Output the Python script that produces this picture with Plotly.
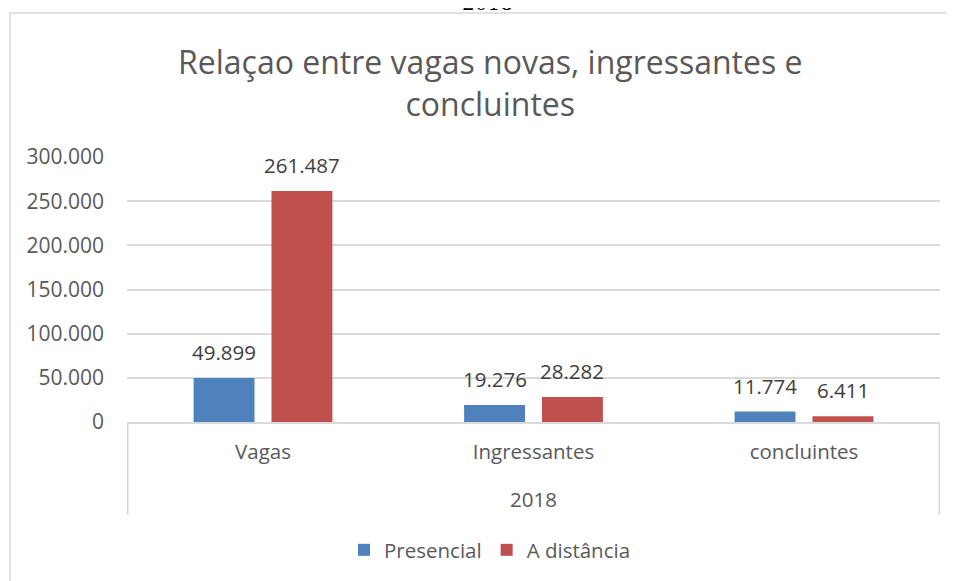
import plotly.graph_objects as go

# ---- data ----
group_label = "2018"
categories = ["Vagas", "Ingressantes", "concluintes"]
presencial = [49899, 19276, 11774]
distancia = [261487, 28282, 6411]
series_names = ["Presencial", "A distância"]
y_ticks = [0, 50000, 100000, 150000, 200000, 250000, 300000]
y_ticklabels = ["0", "50.000", "100.000", "150.000", "200.000", "250.000", "300.000"]
title_text = "Relaçao entre vagas novas, ingressantes e<br>concluintes"

# ---- style ----
BLUE = "#4f81bd"
RED = "#c0504d"
TXT = "#595959"
LBL = "#404040"
GRID = "#d9d9d9"
FONT = "Open Sans"
BARGAP = 0.424
BARGROUPGAP = 0.218

OFF = 8  # page body margin
W, H = 955 - OFF, 581 - OFF
# plot area in reference (screen) pixels
X0, X1, Y0, Y1 = 127, 940, 157, 422
ML, MR, MT, MB = X0 - OFF, W - (X1 - OFF), Y0 - OFF, H - (Y1 - OFF)
PW, PH = X1 - X0, Y1 - Y0


def px2xp(x):
    return (x - X0) / PW


def px2yp(y):
    return (Y1 - y) / PH


def fmt(v):
    return f"{v:,}".replace(",", ".")


fig = go.Figure()
fig.add_trace(go.Bar(x=categories, y=presencial, name=series_names[0],
                     marker=dict(color=BLUE, line=dict(width=0))))
fig.add_trace(go.Bar(x=categories, y=distancia, name=series_names[1],
                     marker=dict(color=RED, line=dict(width=0))))

# data labels
slot = (1 - BARGAP) / 2
for vals, sign in ((presencial, -1), (distancia, 1)):
    for i, v in enumerate(vals):
        fig.add_annotation(x=i + sign * slot / 2, y=v, xref="x", yref="y",
                           text=fmt(v), showarrow=False, yanchor="middle",
                           yshift=26, font=dict(family=FONT, size=20.5, color=LBL))

# group label under categories
fig.add_annotation(x=0.5, y=px2yp(499), xref="paper", yref="paper",
                   text=group_label, showarrow=False, xanchor="center", yanchor="middle",
                   font=dict(family=FONT, size=20.5, color=TXT))

# category dividers
for xd in (-0.5, len(categories) - 0.5):
    fig.add_shape(type="line", xref="x", yref="paper", x0=xd, x1=xd, y0=0, y1=px2yp(515),
                  line=dict(color=GRID, width=1.5))

# title
fig.add_annotation(x=px2xp(490), y=px2yp(82.5), xref="paper", yref="paper",
                   text=title_text, showarrow=False, xanchor="center", yanchor="middle",
                   font=dict(family=FONT, size=32, color=TXT))

# cut-off page text at top
fig.add_annotation(x=px2xp(487), y=px2yp(OFF + 9), xref="paper", yref="paper",
                   text=group_label, showarrow=False, xanchor="center", yanchor="bottom",
                   font=dict(family="DejaVu Serif", size=20, color="#000000"))

# outer chart border
fig.add_shape(type="rect", xref="paper", yref="paper",
              x0=px2xp(10), x1=px2xp(975), y0=px2yp(610), y1=px2yp(13),
              line=dict(color=GRID, width=1.5), fillcolor="rgba(0,0,0,0)", layer="below")

fig.update_layout(
    width=W, height=H,
    margin=dict(l=ML, r=MR, t=MT, b=MB, autoexpand=False),
    paper_bgcolor="white", plot_bgcolor="white",
    barmode="group", bargap=BARGAP, bargroupgap=BARGROUPGAP,
    separators=",.",
    showlegend=True,
    legend=dict(orientation="h", x=px2xp(490), xanchor="center", y=px2yp(550), yanchor="middle",
                font=dict(family=FONT, size=20.5, color=TXT), itemwidth=30,
                traceorder="normal"),
    font=dict(family=FONT, color=TXT),
)
fig.update_xaxes(type="category", showgrid=False, showline=True, linecolor=GRID, linewidth=1.5,
                 tickfont=dict(family=FONT, size=20.5, color=TXT), ticks="",
                 ticklabelstandoff=11)
fig.update_yaxes(range=[0, 300000], tickvals=y_ticks, ticktext=y_ticklabels,
                 showgrid=True, gridcolor=GRID, gridwidth=1.5, zeroline=False, showline=False,
                 tickfont=dict(family=FONT, size=21, color=TXT), ticklabelstandoff=22)

fig.write_html("out.html", config={"displayModeBar": False})
